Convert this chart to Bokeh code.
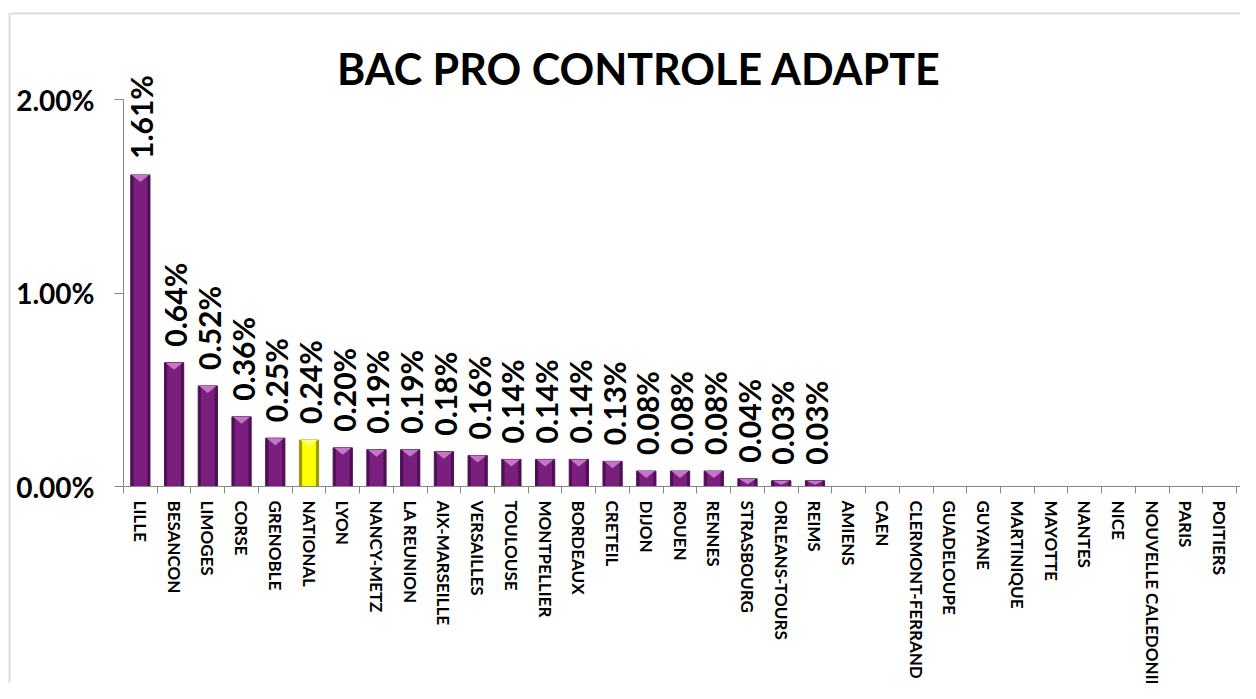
import math
from bokeh.plotting import figure
from bokeh.models import (Range1d, FixedTicker, NumeralTickFormatter, ColumnDataSource,
                          Label, BoxAnnotation)
from bokeh.core.properties import value
from bokeh.embed import file_html
from bokeh.resources import INLINE

# ---------------- data ----------------
categories = [
    "LILLE", "BESANCON", "LIMOGES", "CORSE", "GRENOBLE", "NATIONAL", "LYON",
    "NANCY-METZ", "LA REUNION", "AIX-MARSEILLE", "VERSAILLES", "TOULOUSE",
    "MONTPELLIER", "BORDEAUX", "CRETEIL", "DIJON", "ROUEN", "RENNES",
    "STRASBOURG", "ORLEANS-TOURS", "REIMS", "AMIENS", "CAEN",
    "CLERMONT-FERRAND", "GUADELOUPE", "GUYANE", "MARTINIQUE", "MAYOTTE",
    "NANTES", "NICE", "NOUVELLE CALEDONIE", "PARIS", "POITIERS",
    "POLYNESIE FRANCAISE",
]
rates = [
    0.0161, 0.0064, 0.0052, 0.0036, 0.0025, 0.0024, 0.0020,
    0.0019, 0.0019, 0.0018, 0.0016, 0.0014,
    0.0014, 0.0014, 0.0013, 0.0008, 0.0008, 0.0008,
    0.0004, 0.0003, 0.0003, 0.0, 0.0,
    0.0, 0.0, 0.0, 0.0, 0.0,
    0.0, 0.0, 0.0, 0.0, 0.0,
    0.0,
]
highlight = "NATIONAL"
y_ticks = [0.0, 0.01, 0.02]
title_text = "BAC  PRO  CONTROLE ADAPTE"

# ---------------- geometry / style ----------------
W, H = 1240, 683
X0_PX = 123              # canvas x of the value axis
Y0_PX = 486              # canvas y of the zero line
CAT_PX = 33.73           # pixels per category
Y_PX = 19350.0           # pixels per unit of rate
FONT_NAME = "Lato"
FONT = value(FONT_NAME)

p = figure(
    width=W, height=H, output_backend="svg", toolbar_location=None,
    x_range=Range1d(-X0_PX / CAT_PX, (W - X0_PX) / CAT_PX),
    y_range=Range1d(-(H - Y0_PX) / Y_PX, Y0_PX / Y_PX),
    min_border_left=0, min_border_right=0, min_border_top=0, min_border_bottom=0,
)
p.outline_line_color = None
p.xgrid.grid_line_color = None
p.ygrid.grid_line_color = None
p.background_fill_color = "white"
p.border_fill_color = "white"

# chart-area border (left and top edges visible, the rest lies beyond the window)
p.add_layout(BoxAnnotation(left=9, top=13, right=W + 20, bottom=H + 20,
                           left_units="canvas", right_units="canvas",
                           top_units="canvas", bottom_units="canvas",
                           fill_color=None, line_color="#8c8c8c", line_width=2,
                           level="underlay"))

# bars
xs, tops, fills, edges, labels = [], [], [], [], []
tri_xs, tri_ys, tri_cols = [], [], []
bar_w = 0.57
for i, (c, r) in enumerate(zip(categories, rates)):
    if r <= 0:
        continue
    xc = i + 0.5
    xs.append(xc)
    tops.append(r)
    if c == highlight:
        fills.append("#ffff00"); edges.append("#9a9a00"); bev = "#ffff66"
    else:
        fills.append("#7a1f7e"); edges.append("#4f0f54"); bev = "#c377c6"
    labels.append(f"{r:.2%}")
    d = min(7.0 / Y_PX, r * 0.7)
    tri_xs.append([xc - bar_w / 2 + 0.03, xc + bar_w / 2 - 0.03, xc])
    tri_ys.append([r, r, r - d])
    tri_cols.append(bev)

src = ColumnDataSource(dict(x=xs, top=tops, fill=fills, edge=edges, label=labels))
p.vbar(x="x", top="top", bottom=0, width=bar_w, source=src,
       fill_color="edge", line_color="edge", line_width=1)
p.vbar(x="x", top="top", bottom=0, width=bar_w * 0.72, source=src,
       fill_color="fill", line_color=None)
p.patches(tri_xs, tri_ys, fill_color=tri_cols, line_color=None)

p.text(x="x", y="top", text="label", source=src, angle=math.pi / 2,
       text_align="left", text_baseline="middle", y_offset=-16, x_offset=1,
       text_font=FONT, text_font_style="bold", text_font_size="30px",
       text_color="black")

# x axis at zero, ticks between categories, labels at centres
xa = p.xaxis[0]
centers = [i + 0.5 for i in range(len(categories))]
bounds = [float(i) for i in range(len(categories) + 1)]
xa.ticker = FixedTicker(ticks=centers, minor_ticks=bounds)
xa.major_label_overrides = {c: n for c, n in zip(centers, categories)}
xa.fixed_location = 0
xa.bounds = (0, len(categories))
xa.major_label_orientation = "vertical"
xa.major_tick_line_color = None
xa.major_tick_out = 0
xa.major_tick_in = 0
xa.minor_tick_out = 7
xa.minor_tick_in = 0
xa.minor_tick_line_color = "#868686"
xa.axis_line_color = "#868686"
xa.major_label_standoff = 7
xa.major_label_text_font = FONT_NAME
xa.major_label_text_font_style = "bold"
xa.major_label_text_font_size = "17px"
xa.major_label_text_color = "black"

ya = p.yaxis[0]
ya.ticker = FixedTicker(ticks=y_ticks)
ya.formatter = NumeralTickFormatter(format="0.00%")
ya.fixed_location = 0
ya.bounds = (y_ticks[0], y_ticks[-1])
ya.axis_line_color = "#868686"
ya.major_tick_line_color = "#868686"
ya.major_tick_out = 9
ya.major_tick_in = 0
ya.minor_tick_line_color = None
ya.major_label_standoff = 20
ya.major_label_text_font = FONT_NAME
ya.major_label_text_font_style = "bold"
ya.major_label_text_font_size = "28px"
ya.major_label_text_color = "black"

# title placed in the chart area
p.add_layout(Label(x=(649 - X0_PX) / CAT_PX, y=(Y0_PX - 68) / Y_PX, text=title_text,
                   text_align="center", text_baseline="middle", text_font=FONT_NAME,
                   text_font_style="bold", text_font_size="43px", text_color="black"))

open("out.html", "w").write(file_html(p, INLINE))
